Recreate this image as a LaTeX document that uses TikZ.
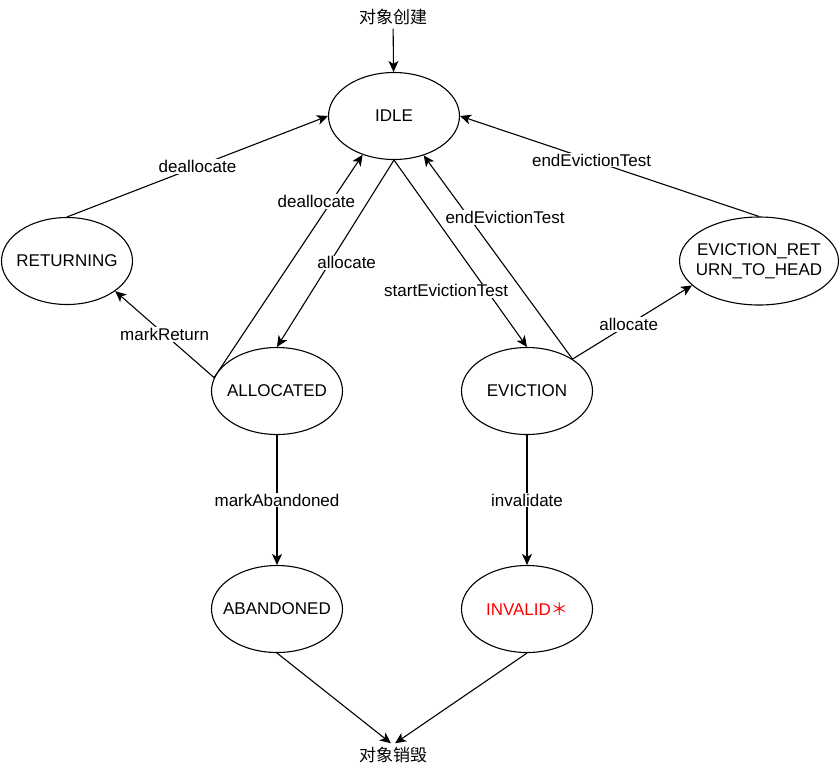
\documentclass[tikz,border=0pt]{standalone}
\usepackage{fontspec}
\setmainfont{Liberation Sans}
\newfontfamily\cjk{Noto Sans CJK SC}
\usetikzlibrary{shapes.geometric,arrows.meta}
\tikzset{
  state/.style={draw,ellipse,minimum width=131pt,minimum height=87pt,
    inner xsep=-12pt,inner ysep=0pt,align=center},
  lbl/.style={fill=white,inner sep=1pt},
}
\begin{document}
\begin{tikzpicture}[x=1pt,y=-1pt,line width=1.1pt,font=\fontsize{17}{20}\selectfont]
  \useasboundingbox (0,0) rectangle (840,772);
  \draw
    (393,17) node (create){\cjk 对象创建}
    (394,116) node[state] (idle){IDLE}
    (67,261) node[state] (ret){RETURNING}
    (759,261) node[state,minimum width=159pt,minimum height=88pt] (evictret){EVICTION\_RET\\URN\_TO\_HEAD}
    (277,391) node[state] (alloc){ALLOCATED}
    (527,391) node[state] (evict){EVICTION}
    (277,609) node[state] (abandoned){ABANDONED}
    (527,609) node[state,text=red] (invalid){INVALID{\cjk ＊}}
    (393,755) node (destroy){\cjk 对象销毁};
  \begin{scope}[-{Stealth[length=11pt,width=10pt,inset=3pt]}]
    \draw (create) to (idle);
    \draw (ret.north) to node[lbl] {deallocate} (idle.west);
    \draw (alloc.168) to node[lbl,pos=.79,xshift=-15pt] {deallocate} (idle.231);
    \draw (idle.south) to node[lbl,pos=.55,xshift=17pt] {allocate} (alloc.north);
    \draw (alloc.168) to node[lbl] {markReturn} (ret.328);
    \draw (idle.south) to node[lbl,pos=.7,xshift=-41pt] {startEvictionTest} (evict.north);
    \draw (evict.35) to node[lbl,pos=.695,xshift=36pt] {endEvictionTest} (idle.307);
    \draw (evictret.north) to node[lbl,pos=.56] {endEvictionTest} (idle.east);
    \draw (evict.35) to node[lbl,pos=.47] {allocate} (evictret.200);
    \draw (alloc) to node[lbl] {markAbandoned} (abandoned);
    \draw (evict) to node[lbl] {invalidate} (invalid);
    \draw (abandoned.south) to (destroy.100);
    \draw (invalid.south) to (destroy.80);
  \end{scope}
\end{tikzpicture}
\end{document}
